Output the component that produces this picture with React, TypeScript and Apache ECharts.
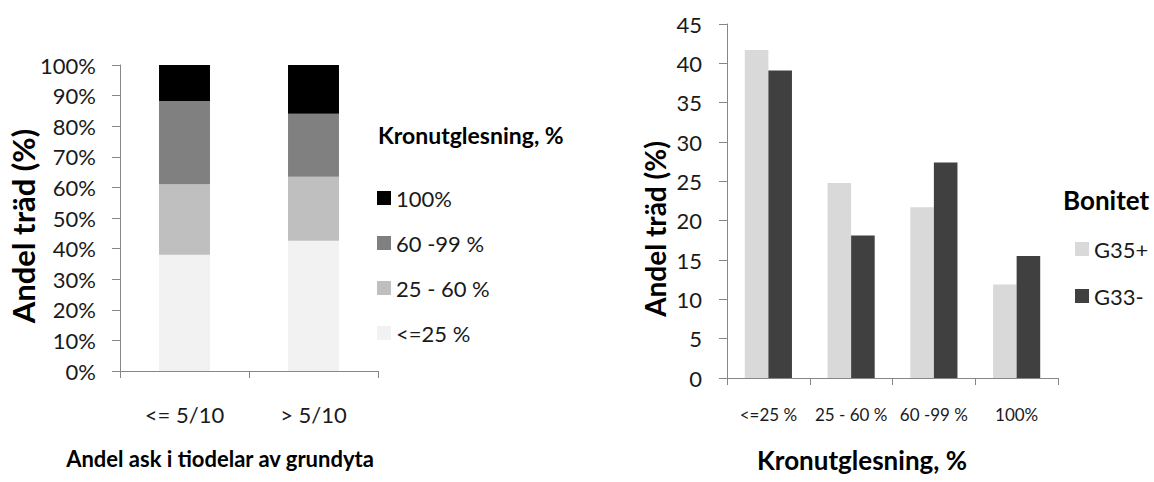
import React, { useEffect, useRef } from "react";
import * as echarts from "echarts";

// Left chart data
const leftCategories = ["<= 5/10", "> 5/10"];
const leftSeriesNames = ["<=25 %", "25 - 60 %", "60 -99 %", "100%"];
const leftLe25 = [38.0, 42.6];
const left25to60 = [23.0, 20.9];
const left60to99 = [27.2, 20.6];
const left100 = [11.8, 15.9];
const leftColors = ["#f2f2f2", "#bfbfbf", "#808080", "#000000"];

// Right chart data
const rightCategories = ["<=25 %", "25 - 60 %", "60 -99 %", "100%"];
const rightSeriesNames = ["G35+", "G33-"];
const rightG35 = [41.7, 24.8, 21.7, 11.9];
const rightG33 = [39.1, 18.1, 27.4, 15.5];
const rightColors = ["#d9d9d9", "#404040"];

const FONT = "Lato, 'Open Sans', sans-serif";
const AXIS_COLOR = "#878787";
const TEXT_COLOR = "#1a1a1a";

export default function App() {
  const ref = useRef<HTMLDivElement>(null);
  useEffect(() => {
    if (!ref.current) return;
    const chart = echarts.init(ref.current, undefined, { renderer: "svg" });
    const leftData = [leftLe25, left25to60, left60to99, left100];
    const rightData = [rightG35, rightG33];

    const axisCommon = {
      axisLine: { show: true, lineStyle: { color: AXIS_COLOR, width: 1 } },
      axisTick: { show: true, lineStyle: { color: AXIS_COLOR }, length: 8 },
      splitLine: { show: false },
    };

    chart.setOption({
      animation: false,
      textStyle: { fontFamily: FONT },
      grid: [
        { left: 120, top: 65, width: 258, height: 306 },
        { left: 727, top: 24, width: 331, height: 354 },
      ],
      xAxis: [
        {
          type: "category",
          gridIndex: 0,
          data: leftCategories,
          ...axisCommon,
          axisTick: { show: true, lineStyle: { color: AXIS_COLOR }, length: 7 },
          axisLabel: { fontSize: 22, color: TEXT_COLOR, margin: 32, fontFamily: FONT },
        },
        {
          type: "category",
          gridIndex: 1,
          data: rightCategories,
          ...axisCommon,
          axisTick: { show: true, lineStyle: { color: AXIS_COLOR }, length: 7 },
          axisLabel: { fontSize: 17, color: TEXT_COLOR, margin: 28, fontFamily: FONT, interval: 0 },
        },
      ],
      yAxis: [
        {
          type: "value",
          gridIndex: 0,
          min: 0,
          max: 100,
          interval: 10,
          ...axisCommon,
          axisLabel: { fontSize: 22, color: TEXT_COLOR, margin: 24, formatter: "{value}%", fontFamily: FONT },
        },
        {
          type: "value",
          gridIndex: 1,
          min: 0,
          max: 45,
          interval: 5,
          ...axisCommon,
          axisLabel: { fontSize: 22, color: TEXT_COLOR, margin: 25, fontFamily: FONT },
        },
      ],
      legend: [
        {
          data: [...leftSeriesNames].reverse(),
          orient: "vertical",
          left: 372,
          top: 182,
          icon: "rect",
          itemWidth: 14,
          itemHeight: 14,
          itemGap: 23,
          textStyle: { fontSize: 22, color: TEXT_COLOR, lineHeight: 22, fontFamily: FONT },
          selectedMode: false,
        },
        {
          data: rightSeriesNames,
          orient: "vertical",
          left: 1070,
          top: 233,
          icon: "rect",
          itemWidth: 14,
          itemHeight: 14,
          itemGap: 25,
          textStyle: { fontSize: 22, color: TEXT_COLOR, lineHeight: 22, fontFamily: FONT },
          selectedMode: false,
        },
      ],
      series: [
        ...leftSeriesNames.map((name, i) => ({
          name,
          type: "bar",
          xAxisIndex: 0,
          yAxisIndex: 0,
          stack: "left",
          barWidth: "39.5%",
          data: leftData[i],
          itemStyle: { color: leftColors[i] },
        })),
        ...rightSeriesNames.map((name, i) => ({
          name,
          type: "bar",
          xAxisIndex: 1,
          yAxisIndex: 1,
          barGap: "0%",
          barCategoryGap: "43%",
          data: rightData[i],
          itemStyle: { color: rightColors[i] },
        })),
      ],
      graphic: [
        {
          type: "text",
          x: 23,
          y: 226,
          rotation: Math.PI / 2,
          style: {
            text: "Andel träd (%)",
            font: `bold 31px ${FONT}`,
            fill: "#000",
            align: "center",
            verticalAlign: "middle",
          },
        },
        {
          type: "text",
          x: 655,
          y: 229,
          rotation: Math.PI / 2,
          style: {
            text: "Andel träd (%)",
            font: `bold 28px ${FONT}`,
            fill: "#000",
            align: "center",
            verticalAlign: "middle",
          },
        },
        {
          type: "text",
          x: 220,
          y: 458,
          style: {
            text: "Andel ask i tiodelar av grundyta",
            font: `bold 22px ${FONT}`,
            fill: "#000",
            align: "center",
            verticalAlign: "middle",
          },
        },
        {
          type: "text",
          x: 862,
          y: 460,
          style: {
            text: "Kronutglesning, %",
            font: `bold 26px ${FONT}`,
            fill: "#000",
            align: "center",
            verticalAlign: "middle",
          },
        },
        {
          type: "text",
          x: 378,
          y: 135,
          style: {
            text: "Kronutglesning, %",
            font: `bold 23px ${FONT}`,
            fill: "#000",
            align: "left",
            verticalAlign: "middle",
          },
        },
        {
          type: "text",
          x: 1063,
          y: 200,
          style: {
            text: "Bonitet",
            font: `bold 26px ${FONT}`,
            fill: "#000",
            align: "left",
            verticalAlign: "middle",
          },
        },
      ],
    });
    return () => chart.dispose();
  }, []);
  return (
    <div
      ref={ref}
      style={{ position: "absolute", left: 0, top: 0, width: 1154, height: 482 }}
    />
  );
}
